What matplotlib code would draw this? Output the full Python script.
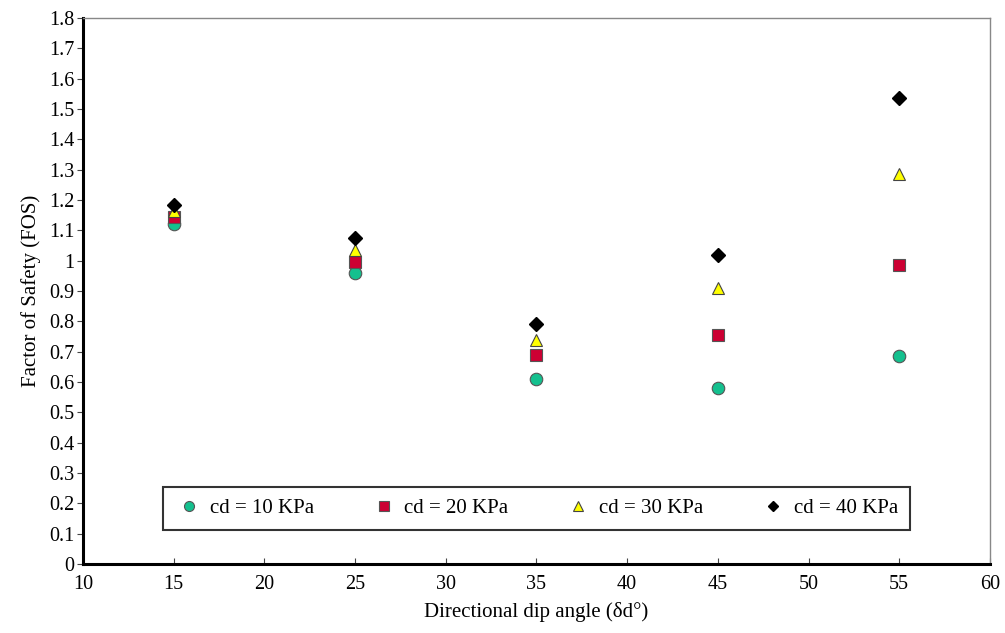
import matplotlib
matplotlib.use("Agg")
import matplotlib.pyplot as plt

angles = [15, 25, 35, 45, 55]
fos_10 = [1.12, 0.96, 0.61, 0.58, 0.685]
fos_20 = [1.145, 0.995, 0.69, 0.755, 0.985]
fos_30 = [1.165, 1.035, 0.74, 0.91, 1.285]
fos_40 = [1.185, 1.075, 0.79, 1.02, 1.535]

plt.rcParams['font.family'] = ['Liberation Serif', 'DejaVu Serif']

fig = plt.figure(figsize=(10.05, 6.33), dpi=100)
ax = fig.add_axes([0.0826, 0.109, 0.9024, 0.8626])

ax.plot(angles, fos_10, 'o', ms=9, mfc='#14c08e', mec='#555555', mew=0.8, ls='none', label='cd = 10 KPa')
ax.plot(angles, fos_20, 's', ms=9, mfc='#cc0033', mec='#555555', mew=0.8, ls='none', label='cd = 20 KPa')
ax.plot(angles, fos_30, '^', ms=9, mfc='#ffff00', mec='#444444', mew=0.8, ls='none', label='cd = 30 KPa')
ax.plot(angles, fos_40, 'D', ms=7, mfc='black', mec='black', ls='none', label='cd = 40 KPa')

ax.set_xlim(10, 60)
ax.set_ylim(0, 1.8)
ax.set_xticks(range(10, 61, 5))
ax.set_yticks([i / 10 for i in range(0, 19)])
ax.set_yticklabels(['0', '0.1', '0.2', '0.3', '0.4', '0.5', '0.6', '0.7', '0.8', '0.9', '1',
                    '1.1', '1.2', '1.3', '1.4', '1.5', '1.6', '1.7', '1.8'])
ax.tick_params(axis='both', labelsize=14.5, length=4, color='#444444')
ax.tick_params(axis='x', direction='in', pad=8)
ax.tick_params(axis='y', direction='out', pad=2)

ax.spines['left'].set_linewidth(2.2)
ax.spines['bottom'].set_linewidth(2.2)
for s in ['top', 'right']:
    ax.spines[s].set_color('#888888')
    ax.spines[s].set_linewidth(1)

ax.set_xlabel('Directional dip angle (\u03b4d\u00b0)', fontsize=15, labelpad=6)
ax.set_ylabel('Factor of Safety (FOS)', fontsize=15, labelpad=6)

leg = ax.legend(loc='upper left', bbox_to_anchor=(0.088, 0.141), ncol=4, fontsize=15,
                frameon=True, fancybox=False, edgecolor='black', handletextpad=0.3,
                columnspacing=2.65, borderpad=0.55, borderaxespad=0, markerscale=0.8,
                handlelength=1.4)
leg.get_frame().set_linewidth(1.5)

fig.savefig('out.png', dpi=100)
